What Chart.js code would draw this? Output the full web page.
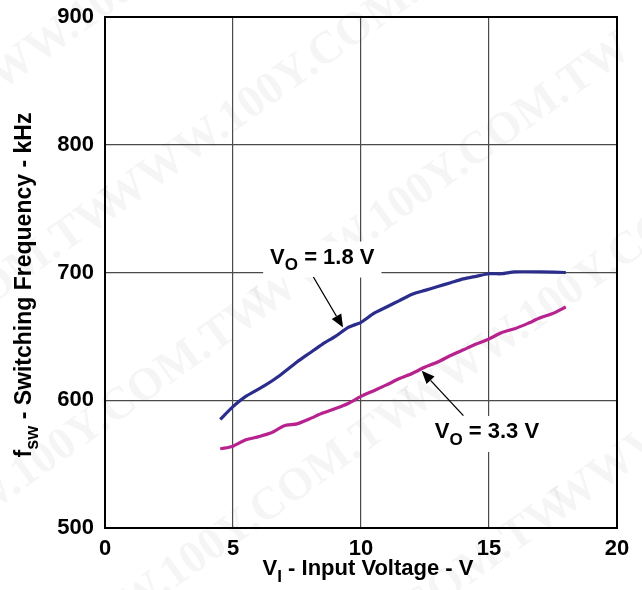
<!DOCTYPE html>
<html>
<head>
<meta charset="utf-8">
<script src="https://cdn.jsdelivr.net/npm/chart.js@4"></script>
<style>
  html, body { margin: 0; padding: 0; background: #fff; }
  #wrap { width: 642px; height: 590px; }
</style>
</head>
<body>
<div id="wrap"><canvas id="c" width="642" height="590"></canvas></div>
<script>
// Input voltage (V) and switching frequency (kHz) for each output voltage
const vinLow = [4.5, 5.0, 5.5, 6.2, 6.8, 7.5, 8.0, 8.5, 9.0, 9.5, 10.0, 10.5, 11.0, 11.5, 12.0, 12.5, 13.0, 13.5, 14.0, 14.5, 15.0, 15.5, 16.0, 17.0, 18.0];
const fswLow = [585, 595, 603, 611, 619, 630, 637, 644, 650, 657, 661, 668, 673, 678, 683, 686, 689, 692, 695, 697, 699, 699, 700.5, 700.5, 700];

const vinHigh = [4.5, 4.8, 5.0, 5.5, 6.0, 6.5, 7.0, 7.5, 8.0, 8.5, 9.0, 9.5, 10.0, 10.5, 11.0, 11.5, 12.0, 12.5, 13.0, 13.5, 14.0, 14.5, 15.0, 15.5, 16.0, 16.5, 17.0, 17.5, 18.0];
const fswHigh = [562, 563, 564, 569, 571.5, 574.5, 580, 581.5, 585.5, 590, 593.5, 597.5, 603, 607.5, 612, 617, 621, 626, 630, 635, 639.5, 644, 648, 653, 656, 660, 664.5, 668, 673];

const xTicks = [0, 5, 10, 15, 20];
const yTicks = [500, 600, 700, 800, 900];

const seriesLabels = ['1.8 V', '3.3 V'];

const FONT = '"Liberation Sans", Arial, Helvetica, sans-serif';
const TXT = 22;

function toPoints(xs, ys) { return xs.map((x, i) => ({ x: x, y: ys[i] })); }

// draws "main" + subscript + "rest" starting at (x, y) baseline, left aligned
function drawSubText(ctx, x, y, main, sub, rest, size) {
  ctx.font = 'bold ' + size + 'px ' + FONT;
  ctx.textAlign = 'left';
  ctx.textBaseline = 'alphabetic';
  ctx.fillText(main, x, y);
  let w = ctx.measureText(main).width;
  ctx.font = 'bold ' + Math.round(size * 0.78) + 'px ' + FONT;
  ctx.fillText(sub, x + w, y + size * 0.3);
  w += ctx.measureText(sub).width;
  ctx.font = 'bold ' + size + 'px ' + FONT;
  ctx.fillText(rest, x + w, y);
  return w + ctx.measureText(rest).width;
}
function subTextWidth(ctx, main, sub, rest, size) {
  ctx.font = 'bold ' + size + 'px ' + FONT;
  let w = ctx.measureText(main).width + ctx.measureText(rest).width;
  ctx.font = 'bold ' + Math.round(size * 0.78) + 'px ' + FONT;
  return w + ctx.measureText(sub).width;
}

function arrow(ctx, x1, y1, x2, y2) {
  const ang = Math.atan2(y2 - y1, x2 - x1);
  const hl = 13, hw = 5.5;
  const bx = x2 - hl * Math.cos(ang), by = y2 - hl * Math.sin(ang);
  ctx.strokeStyle = '#000';
  ctx.lineWidth = 1.3;
  ctx.beginPath();
  ctx.moveTo(x1, y1);
  ctx.lineTo(bx, by);
  ctx.stroke();
  ctx.fillStyle = '#000';
  ctx.beginPath();
  ctx.moveTo(x2, y2);
  ctx.lineTo(bx + hw * Math.sin(ang), by - hw * Math.cos(ang));
  ctx.lineTo(bx - hw * Math.sin(ang), by + hw * Math.cos(ang));
  ctx.closePath();
  ctx.fill();
}

const backdrop = {
  id: 'backdrop',
  beforeDraw(chart) {
    const ctx = chart.ctx;
    ctx.save();
    ctx.fillStyle = '#fff';
    ctx.fillRect(0, 0, chart.width, chart.height);
    // faint diagonal site stamp
    ctx.fillStyle = 'rgba(0,0,0,0.04)';
    ctx.font = 'bold 46px "Liberation Serif", "DejaVu Serif", serif';
    ctx.textAlign = 'left';
    ctx.textBaseline = 'middle';
    const stamp = 'WWW.100Y.COM.TW';
    for (let r = -3; r < 7; r++) {
      ctx.save();
      ctx.translate(-60 + r * 150, 120 + r * 100);
      ctx.rotate(-0.62);
      ctx.fillText(stamp, -420, 0);
      ctx.fillText(stamp, 20, 0);
      ctx.restore();
    }
    ctx.restore();
  }
};

const decorations = {
  id: 'decorations',
  afterDraw(chart) {
    const ctx = chart.ctx;
    const a = chart.chartArea;
    const xs = chart.scales.x, ys = chart.scales.y;
    ctx.save();
    // frame
    ctx.strokeStyle = '#000';
    ctx.lineWidth = 2;
    ctx.strokeRect(a.left, a.top, a.right - a.left, a.bottom - a.top);

    // axis titles
    ctx.fillStyle = '#000';
    const xt = ['V', 'I', ' - Input Voltage - V'];
    const xw = subTextWidth(ctx, xt[0], xt[1], xt[2], TXT);
    drawSubText(ctx, (a.left + a.right) / 2 - xw / 2 + 7, a.bottom + 47, xt[0], xt[1], xt[2], TXT);

    const yt = ['f', 'sw', ' - Switching Frequency - kHz'];
    const ySize = 23;
    const yw = subTextWidth(ctx, yt[0], yt[1], yt[2], ySize);
    ctx.save();
    ctx.translate(31, (a.top + a.bottom) / 2 + 12.5 + yw / 2);
    ctx.rotate(-Math.PI / 2);
    drawSubText(ctx, 0, 0, yt[0], yt[1], yt[2], ySize);
    ctx.restore();

    // series callouts
    const lbl1 = ['V', 'O', ' = ' + seriesLabels[0]];
    const lbl2 = ['V', 'O', ' = ' + seriesLabels[1]];
    const w1 = subTextWidth(ctx, lbl1[0], lbl1[1], lbl1[2], TXT);
    const w2 = subTextWidth(ctx, lbl2[0], lbl2[1], lbl2[2], TXT);
    const l1x = xs.getPixelForValue(6.45), l1y = ys.getPixelForValue(707);
    const l2x = xs.getPixelForValue(12.88), l2y = ys.getPixelForValue(570.5);
    ctx.fillStyle = '#fff';
    ctx.fillRect(l1x - 7, l1y - 22, w1 + 14, 36);
    ctx.fillRect(l2x - 7, l2y - 22, w2 + 14, 36);
    ctx.fillStyle = '#000';
    drawSubText(ctx, l1x, l1y, lbl1[0], lbl1[1], lbl1[2], TXT);
    drawSubText(ctx, l2x, l2y, lbl2[0], lbl2[1], lbl2[2], TXT);

    arrow(ctx, xs.getPixelForValue(8.14), ys.getPixelForValue(696.5),
               xs.getPixelForValue(9.3), ys.getPixelForValue(657));
    arrow(ctx, xs.getPixelForValue(14.0), ys.getPixelForValue(588),
               xs.getPixelForValue(12.37), ys.getPixelForValue(623));
    ctx.restore();
  }
};

new Chart(document.getElementById('c'), {
  type: 'line',
  data: {
    datasets: [
      { label: seriesLabels[0], data: toPoints(vinLow, fswLow), borderColor: '#2a2d8c', borderWidth: 3.2, pointRadius: 0, tension: 0.2, fill: false },
      { label: seriesLabels[1], data: toPoints(vinHigh, fswHigh), borderColor: '#b8228f', borderWidth: 3.2, pointRadius: 0, tension: 0.2, fill: false }
    ]
  },
  options: {
    responsive: false,
    animation: false,
    devicePixelRatio: 1,
    layout: { padding: { top: 17, right: 25, left: 0, bottom: 0 } },
    plugins: { legend: { display: false }, tooltip: { enabled: false } },
    scales: {
      x: {
        type: 'linear', min: 0, max: 20,
        afterFit(s) { s.height = 62; s.paddingLeft = 0; s.paddingRight = 0; },
        afterBuildTicks(s) { s.ticks = xTicks.map(v => ({ value: v })); },
        grid: { color: '#4a4a4a', lineWidth: 1.2, drawTicks: false },
        border: { display: false },
        ticks: { color: '#000', padding: 8, font: { family: FONT, size: TXT, weight: 'bold' } }
      },
      y: {
        min: 500, max: 900,
        afterFit(s) { s.width = 105; s.paddingTop = 0; s.paddingBottom = 0; },
        afterBuildTicks(s) { s.ticks = yTicks.map(v => ({ value: v })); },
        grid: { color: '#4a4a4a', lineWidth: 1.2, drawTicks: false },
        border: { display: false },
        ticks: { color: '#000', padding: 11, font: { family: FONT, size: TXT, weight: 'bold' } }
      }
    }
  },
  plugins: [backdrop, decorations]
});
</script>
</body>
</html>
